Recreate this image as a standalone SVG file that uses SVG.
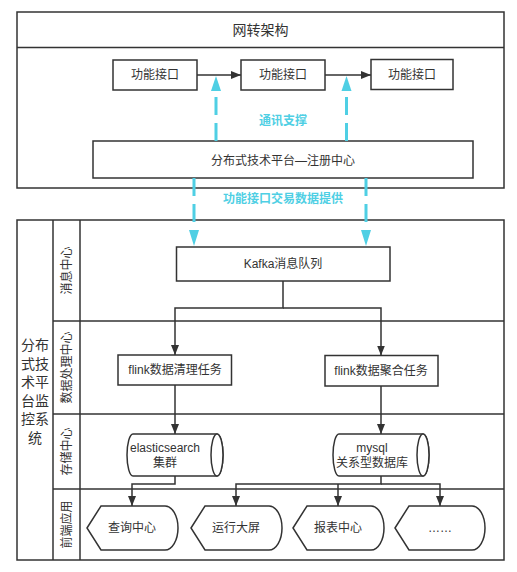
<svg xmlns="http://www.w3.org/2000/svg" width="517" height="572" viewBox="0 0 517 572">
<defs>
<style>
.box{fill:#fff;stroke:#333;stroke-width:1.5}
.ln{fill:none;stroke:#333;stroke-width:1.5}
.t{font-family:"Liberation Sans","Noto Sans CJK SC",sans-serif;font-size:12px;fill:#333;text-anchor:middle;dominant-baseline:central}
.c{font-family:"Liberation Sans","Noto Sans CJK SC",sans-serif;font-size:12px;font-weight:bold;fill:#4FCFE4;text-anchor:middle;dominant-baseline:central}
.dash{fill:none;stroke:#4FCFE4;stroke-width:3;stroke-dasharray:18 8}
.ah{fill:#4FCFE4}
</style>
<marker id="arr" markerUnits="userSpaceOnUse" markerWidth="10" markerHeight="8" refX="10" refY="4" orient="auto">
<path d="M0,0 L10,4 L0,8 Z" fill="#333"/>
</marker>
</defs>
<rect width="517" height="572" fill="#fff"/>

<g id="top-container">
<rect class="box" x="17" y="12" width="487" height="176"/>
<line class="ln" x1="17" y1="47.5" x2="504" y2="47.5"/>
<text class="t" x="260.5" y="30" style="font-size:14px">网转架构</text>
</g>
<g id="func1"><rect class="box" x="113" y="60" width="84" height="30"/><text class="t" x="155" y="75">功能接口</text></g>
<g id="func2"><rect class="box" x="241" y="60" width="84" height="30"/><text class="t" x="283" y="75">功能接口</text></g>
<g id="func3"><rect class="box" x="371" y="59.5" width="82" height="30"/><text class="t" x="412" y="74.5">功能接口</text></g>
<g id="registry"><rect class="box" x="93" y="141" width="380" height="37"/><text class="t" x="283" y="161">分布式技术平台—注册中心</text></g>

<g id="monitor-pool">
<rect class="box" x="17" y="220" width="487" height="340"/>
<line class="ln" x1="53" y1="220" x2="53" y2="560"/>
<line class="ln" x1="80" y1="220" x2="80" y2="560"/>
<line class="ln" x1="53" y1="321" x2="504" y2="321"/>
<line class="ln" x1="53" y1="414" x2="504" y2="414"/>
<line class="ln" x1="53" y1="489" x2="504" y2="489"/>
<text class="t" style="font-size:14px"><tspan x="35" y="345">分布</tspan><tspan x="35" y="363.5">式技</tspan><tspan x="35" y="382">术平</tspan><tspan x="35" y="400.5">台监</tspan><tspan x="35" y="419">控系</tspan><tspan x="35" y="437.5">统</tspan></text>
</g>
<g id="lane-msg"><text class="t" x="66.5" y="270.5" transform="rotate(-90 66.5 270.5)">消息中心</text></g>
<g id="lane-proc"><text class="t" x="66.5" y="367.5" transform="rotate(-90 66.5 367.5)">数据处理中心</text></g>
<g id="lane-store"><text class="t" x="66.5" y="451.5" transform="rotate(-90 66.5 451.5)">存储中心</text></g>
<g id="lane-front"><text class="t" x="66.5" y="524.5" transform="rotate(-90 66.5 524.5)">前端应用</text></g>

<g id="kafka"><rect class="box" x="176.5" y="247" width="213.5" height="34"/><text class="t" x="283" y="264">Kafka消息队列</text></g>
<g id="flink-clean"><rect class="box" x="118" y="355" width="113.5" height="30"/><text class="t" x="175" y="370">flink数据清理任务</text></g>
<g id="flink-agg"><rect class="box" x="325" y="355.5" width="113" height="30.5"/><text class="t" x="381" y="371">flink数据聚合任务</text></g>

<g id="es">
<path class="box" d="M133,434 L217,434 A6,21 0 0 1 217,476 L133,476 A6,21 0 0 1 133,434 Z"/>
<ellipse class="box" cx="217" cy="455" rx="6" ry="21"/>
<text class="t"><tspan x="165" y="448">elasticsearch</tspan><tspan x="165" y="463">集群</tspan></text>
</g>
<g id="mysql">
<path class="box" d="M339,434 L423,434 A6,21 0 0 1 423,476 L339,476 A6,21 0 0 1 339,434 Z"/>
<ellipse class="box" cx="423" cy="455" rx="6" ry="21"/>
<text class="t"><tspan x="372" y="448">mysql</tspan><tspan x="372" y="463">关系型数据库</tspan></text>
</g>

<g id="query"><path class="box" d="M87,528 L101,506 L165,506 A13,22 0 0 1 165,550 L101,550 Z"/><text class="t" x="132" y="528">查询中心</text></g>
<g id="screen"><path class="box" d="M191,528 L205,506 L269,506 A13,22 0 0 1 269,550 L205,550 Z"/><text class="t" x="236" y="528">运行大屏</text></g>
<g id="report"><path class="box" d="M293,528 L307,506 L371,506 A13,22 0 0 1 371,550 L307,550 Z"/><text class="t" x="338" y="528">报表中心</text></g>
<g id="more"><path class="box" d="M395,528 L409,506 L472,506 A13,22 0 0 1 472,550 L409,550 Z"/><text class="t" x="440" y="528">……</text></g>

<g id="connectors">
<line class="ln" x1="197" y1="75" x2="241" y2="75" marker-end="url(#arr)"/>
<line class="ln" x1="325" y1="75" x2="371" y2="75" marker-end="url(#arr)"/>
<polyline class="ln" points="283,281 283,308 175,308 175,355" marker-end="url(#arr)"/>
<polyline class="ln" points="283,308 381,308 381,355.5" marker-end="url(#arr)"/>
<line class="ln" x1="175" y1="385" x2="175" y2="434" marker-end="url(#arr)"/>
<line class="ln" x1="381" y1="386" x2="381" y2="434" marker-end="url(#arr)"/>
<polyline class="ln" points="175,476 175,484 132,484 132,506" marker-end="url(#arr)"/>
<polyline class="ln" points="381,476 381,484 236,484 236,506" marker-end="url(#arr)"/>
<polyline class="ln" points="381,484 440,484 440,506" marker-end="url(#arr)"/>
<line class="ln" x1="338" y1="484" x2="338" y2="506" marker-end="url(#arr)"/>

<line class="dash" x1="216" y1="141" x2="216" y2="91"/>
<polygon class="ah" points="216,76 221,91 211,91"/>
<line class="dash" x1="346.5" y1="141" x2="346.5" y2="91"/>
<polygon class="ah" points="346.5,76 351.5,91 341.5,91"/>
<text class="c" x="283" y="121">通讯支撑</text>

<line class="dash" x1="194" y1="178" x2="194" y2="230"/>
<polygon class="ah" points="194,246 189,230 199,230"/>
<line class="dash" x1="366" y1="178" x2="366" y2="230"/>
<polygon class="ah" points="366,246 361,230 371,230"/>
<text class="c" x="283" y="199">功能接口交易数据提供</text>
</g>
</svg>
